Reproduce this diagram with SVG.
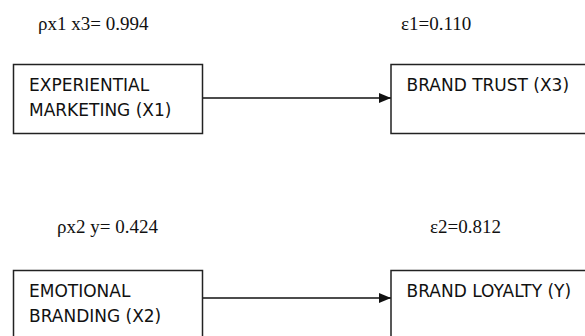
<svg xmlns="http://www.w3.org/2000/svg" width="585" height="336" viewBox="0 0 585 336">
<style>
.box{fill:#fff;stroke:#222;stroke-width:1.5}
.lbl{font-family:"DejaVu Sans","Verdana",sans-serif;font-size:17px;fill:#111}
.coef{font-family:"Liberation Serif","Times New Roman",serif;font-size:19px;fill:#111}
.conn{stroke:#111;stroke-width:1.5;fill:none}
</style>
<defs>
<marker id="arr" markerWidth="12" markerHeight="10" refX="12" refY="5" orient="auto" markerUnits="userSpaceOnUse">
<path d="M0,0 L12,5 L0,10 Z" fill="#111"/>
</marker>
</defs>
<rect width="585" height="336" fill="#fff"/>
<text class="coef" x="38" y="30">ρx1 x3= 0.994</text>
<text class="coef" x="401" y="30">ε1=0.110</text>
<text class="coef" x="57" y="233">ρx2 y= 0.424</text>
<text class="coef" x="430" y="233">ε2=0.812</text>
<g id="connectors">
<line class="conn" x1="202.5" y1="98" x2="391" y2="98" marker-end="url(#arr)"/>
<line class="conn" x1="202.5" y1="298" x2="391" y2="298" marker-end="url(#arr)"/>
</g>
<g id="x1">
<rect class="box" x="13.5" y="64.5" width="189" height="69"/>
<text class="lbl" x="29" y="91">EXPERIENTIAL</text>
<text class="lbl" x="29" y="116">MARKETING (X1)</text>
</g>
<g id="x3">
<rect class="box" x="391" y="64.5" width="220" height="69"/>
<text class="lbl" x="406.5" y="91">BRAND TRUST (X3)</text>
</g>
<g id="x2">
<rect class="box" x="13.5" y="270.5" width="189" height="80"/>
<text class="lbl" x="29" y="297">EMOTIONAL</text>
<text class="lbl" x="29" y="322">BRANDING (X2)</text>
</g>
<g id="y">
<rect class="box" x="391" y="270.5" width="220" height="80"/>
<text class="lbl" x="406.5" y="297">BRAND LOYALTY (Y)</text>
</g>
</svg>
